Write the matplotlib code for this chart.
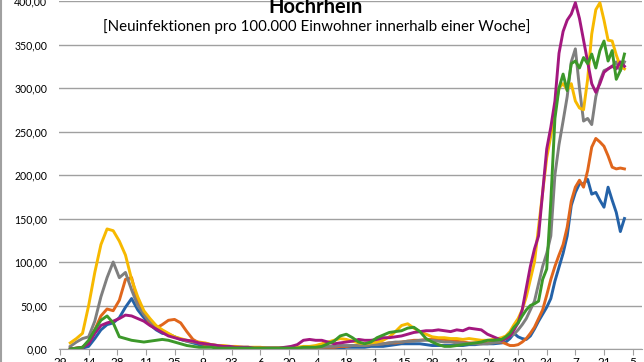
import matplotlib
matplotlib.use("Agg")
from matplotlib import pyplot as plt
from matplotlib.lines import Line2D
import pandas as pd

# dates: every 3 days until end of September, then every 2 days
dates = list(pd.date_range("2020-03-05", "2020-09-30", freq="3D")) + \
        list(pd.date_range("2020-10-02", "2020-12-01", freq="2D"))

blue = [0, 0, 1, 3, 12, 22, 28, 30, 36, 48, 58, 45, 36, 28, 22, 18, 17, 14, 11, 9, 7, 5, 4,
        3, 2, 2, 1, 1, 1, 1, 0, 0, 0, 0, 0, 0, 0, 0, 1, 1, 1, 1, 1, 1, 1, 2, 2, 2, 2, 3, 3, 3,
        4, 5, 6, 6, 6, 6, 5, 4, 4, 4, 4, 4, 4, 5, 5, 6, 6, 6,
        7, 8, 12, 18, 14, 12, 11, 15, 23, 32, 40, 48, 58, 78, 94, 110, 130, 165, 180, 190,
        190, 195, 178, 180, 171, 163, 186, 171, 157, 135, 150]
orange = [0, 1, 2, 8, 22, 38, 46, 44, 56, 80, 82, 54, 40, 30, 24, 28, 33, 34, 30, 20, 11, 7, 5,
          4, 3, 3, 2, 2, 2, 1, 1, 1, 1, 1, 1, 1, 1, 1, 1, 1, 1, 2, 2, 2, 3, 3, 4, 4, 4, 5, 6, 6,
          7, 7, 8, 9, 10, 10, 11, 11, 11, 11, 10, 9, 8, 7, 7, 6, 7, 8,
          8, 6, 4, 4, 5, 8, 12, 18, 25, 35, 45, 62, 80, 95, 108, 120, 140, 170, 186, 194,
          186, 205, 232, 242, 238, 233, 222, 209, 207, 208, 207]
grey = [3, 8, 12, 14, 32, 60, 82, 100, 82, 88, 68, 50, 40, 32, 26, 21, 17, 14, 11, 9, 8, 7, 6,
        5, 4, 3, 3, 2, 2, 2, 1, 1, 1, 1, 1, 1, 1, 1, 1, 2, 2, 2, 3, 3, 4, 4, 4, 4, 4, 5, 5, 6,
        7, 8, 8, 9, 9, 10, 10, 10, 9, 8, 8, 7, 7, 6, 6, 6, 6, 7,
        9, 12, 15, 17, 22, 28, 35, 45, 55, 75, 95, 110, 130, 200, 235, 262, 290, 330, 345, 300,
        262, 265, 258, 290, 308, 320, 322, 325, 330, 320, 330]
yellow = [7, 12, 18, 50, 88, 120, 138, 136, 124, 108, 80, 60, 44, 35, 27, 22, 18, 14, 12, 10, 9, 8, 7,
          5, 4, 4, 3, 3, 2, 2, 2, 2, 1, 1, 1, 1, 1, 2, 3, 3, 4, 6, 8, 10, 12, 11, 9, 7, 6, 7, 8, 10,
          14, 20, 27, 29, 24, 20, 17, 14, 13, 13, 12, 12, 11, 12, 11, 10, 10, 11,
          13, 15, 20, 28, 35, 45, 60, 80, 100, 140, 180, 220, 245, 275, 300, 305, 298, 305, 285, 277,
          275, 310, 362, 390, 398, 378, 355, 354, 338, 325, 322]
purple = [0, 1, 2, 6, 18, 27, 30, 32, 35, 39, 38, 35, 32, 27, 23, 19, 15, 13, 11, 10, 9, 7, 6,
          5, 4, 3, 3, 2, 2, 2, 1, 1, 1, 1, 1, 2, 3, 5, 10, 11, 10, 10, 8, 6, 7, 8, 9, 11, 10, 10, 11,
          13, 13, 14, 15, 17, 19, 20, 21, 21, 22, 21, 20, 22, 21, 24, 23, 22, 17, 14,
          10, 12, 15, 22, 30, 45, 70, 95, 115, 130, 180, 230, 255, 285, 340, 365, 378, 385, 398, 380,
          355, 330, 305, 295, 305, 318, 322, 325, 322, 330, 325]
green = [0, 1, 2, 10, 22, 33, 38, 30, 14, 12, 10, 9, 8, 9, 10, 11, 10, 8, 6, 4, 3, 2, 2,
         2, 1, 1, 1, 1, 1, 1, 1, 1, 1, 1, 1, 1, 1, 1, 2, 2, 2, 3, 6, 9, 15, 17, 13, 8, 6, 8, 13,
         16, 19, 20, 21, 24, 25, 20, 12, 8, 5, 3, 3, 4, 5, 6, 7, 8, 10, 10,
         11, 14, 18, 25, 30, 38, 45, 50, 52, 55, 80, 92, 170, 265, 300, 316, 297, 328, 331, 323,
         335, 328, 339, 323, 343, 354, 331, 343, 310, 320, 339]

series = [blue, orange, grey, yellow, purple, green]
colors = ["#2462A8", "#E0661C", "#7F7F7F", "#F7B900", "#A3177F", "#3C982A"]

tick_dates = pd.date_range("2020-02-29", periods=21, freq="14D")
tick_labels = [str(d.day) for d in tick_dates]
y_ticks = [0, 50, 100, 150, 200, 250, 300, 350, 400]

plt.rcParams['font.family'] = ['Lato', 'DejaVu Sans']

fig = plt.figure(figsize=(6.44, 3.62), dpi=100)
ax = fig.add_axes([59 / 644, 13 / 362, 583 / 644, 348 / 362])

for vals, c in zip(series, colors):
    ax.plot(dates, vals, color=c, linewidth=2.1, solid_joinstyle="round")

ax.set_ylim(0, 400)
ax.set_xlim(pd.Timestamp("2020-02-28 12:00"), pd.Timestamp("2020-12-09 14:00"))
ax.set_yticks(y_ticks)
ax.set_yticklabels([f"{v:.2f}".replace(".", ",") for v in y_ticks], fontsize=7.6)
ax.set_xticks(tick_dates)
ax.set_xticklabels(tick_labels, fontsize=8.5)
ax.yaxis.grid(True, color="#A0A0A0", linewidth=1.0)
ax.set_axisbelow(True)
for s in ["top", "right", "left"]:
    ax.spines[s].set_visible(False)
ax.spines["bottom"].set_color("#A0A0A0")
ax.tick_params(axis="y", length=0, pad=8.5)
ax.tick_params(axis="x", length=4, color="#A0A0A0", pad=2)

fig.text(316 / 644, 1 - 13 / 362, "Hochrhein", ha="center", va="baseline",
         fontsize=14.5, fontweight="bold")
fig.text(317 / 644, 1 - 31 / 362,
         "[Neuinfektionen pro 100.000 Einwohner innerhalb einer Woche]",
         ha="center", va="baseline", fontsize=10.8)

# chart frame on the left
fig.add_artist(Line2D([0.002, 0.002], [0, 1], color="#A0A0A0", linewidth=1.5))

fig.savefig("out.png", dpi=100)
